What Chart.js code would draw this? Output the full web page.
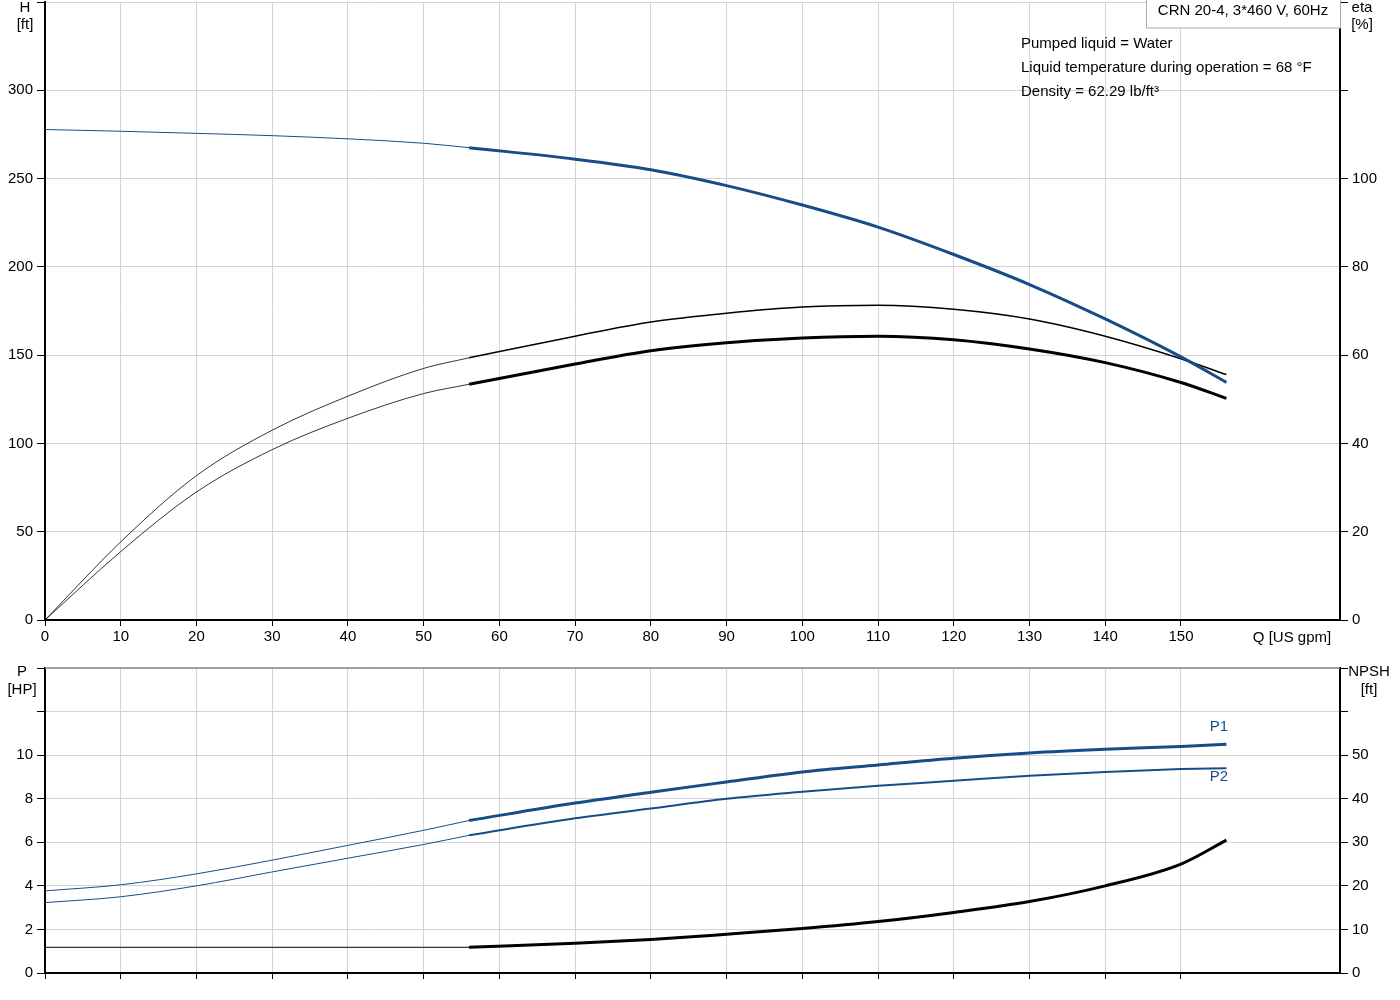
<!DOCTYPE html>
<html><head><meta charset="utf-8">
<script src="https://cdn.jsdelivr.net/npm/chart.js@4"></script>
<style>body{margin:0;background:#fff;width:1400px;height:1000px;overflow:hidden;position:relative}
#c1{position:absolute;left:0;top:-11px}#c2{position:absolute;left:0;top:655px}</style>
</head><body>
<canvas id="c1" width="1400" height="667"></canvas>
<canvas id="c2" width="1400" height="345"></canvas>
<script>
const qLow=[0,10,20,30,40,50,56];
const qHigh=[56,70,80,90,100,110,120,130,140,150,156];
const hLow=[277.8,276.8,275.6,274.3,272.5,270,267.5];
const hHigh=[267.5,261,255,246,235,222.5,207,190,170.5,149,134.6];
const eta1Low=[0,17.7,32.7,43,50.7,57,59.4];
const eta1High=[59.4,64.3,67.5,69.5,70.9,71.3,70.4,68.2,64.3,59.2,55.6];
const eta2Low=[0,15.5,29,38.6,45.7,51.3,53.4];
const eta2High=[53.4,58,61,62.8,63.9,64.3,63.5,61.4,58.3,53.8,50.2];
const p1Low=[3.77,4.05,4.55,5.18,5.86,6.55,7.0];
const p1High=[7.0,7.8,8.3,8.77,9.23,9.55,9.86,10.1,10.27,10.4,10.5];
const p2Low=[3.23,3.5,4.0,4.64,5.27,5.9,6.32];
const p2High=[6.32,7.1,7.55,8.0,8.32,8.6,8.82,9.05,9.23,9.36,9.4];
const npshLow=[5.9,5.9,5.9,5.9,5.9,5.9,5.9];
const npshHigh=[5.9,6.8,7.7,8.9,10.2,11.8,13.9,16.4,20,25,30.5];
const xTicks=[0,10,20,30,40,50,60,70,80,90,100,110,120,130,140,150];
const BLUE='#174d87';
Chart.defaults.font.family='Arial, "Liberation Sans", sans-serif';
Chart.defaults.font.size=15;
Chart.defaults.color='#000';
function pts(xs,ys){return xs.map((x,i)=>({x,y:ys[i]}));}
function ds(xs,ys,color,w,axis){return {data:pts(xs,ys),borderColor:color,borderWidth:w,pointRadius:0,tension:0.4,cubicInterpolationMode:'monotone',yAxisID:axis,fill:false};}
const grid={color:'#d4d4d4',tickColor:'#000',tickLength:8};
function xScale(showLabels){return {type:'linear',min:0,max:171,
  afterBuildTicks:s=>{s.ticks=xTicks.map(v=>({value:v}));},
  grid:{color:'#d4d4d4',tickColor:'#000',tickLength:6,drawTicks:true},
  border:{color:'#000',width:2},
  ticks:{display:showLabels,padding:2,maxRotation:0,autoSkip:false}};}
function yScale(pos,max,step,maxLabel,w){return {type:'linear',position:pos,min:0,max:max,
  afterBuildTicks:s=>{const t=[];for(let v=0;v<=max;v+=step)t.push({value:v});s.ticks=t;},
  afterFit:s=>{s.width=w;},
  grid:Object.assign({},grid,{drawOnChartArea:pos==='left'}),
  border:{color:'#000',width:2},
  ticks:{autoSkip:false,padding:4,callback:v=>v>maxLabel?'':v}};}
const textPlugin=(fn)=>({id:'txt'+Math.random(),afterDraw(c){fn(c.ctx,c);}});
new Chart(document.getElementById('c1'),{type:'line',
 data:{datasets:[
  ds(qLow,hLow,BLUE,1,'y'),ds(qHigh,hHigh,BLUE,3,'y'),
  ds(qLow,eta1Low,'#000',0.8,'y2'),ds(qHigh,eta1High,'#000',1.5,'y2'),
  ds(qLow,eta2Low,'#000',0.8,'y2'),ds(qHigh,eta2High,'#000',3,'y2')]},
 options:{responsive:false,animation:false,events:[],
  layout:{padding:{top:1,left:0,right:0,bottom:8}},
  plugins:{legend:{display:false},tooltip:{enabled:false}},
  scales:{x:xScale(true),y:yScale('left',350,50,300,45),y2:yScale('right',140,20,100,60)}},
 plugins:[textPlugin((ctx,c)=>{
  const a=c.chartArea;ctx.save();ctx.translate(0,11);ctx.font='15px Arial, "Liberation Sans", sans-serif';ctx.fillStyle='#000';
  ctx.textAlign='center';ctx.textBaseline='top';
  ctx.fillText('H',25,0);ctx.fillText('[ft]',25,17);
  ctx.fillText('eta',1362,0);ctx.fillText('[%]',1362,17);
  ctx.fillText('Q [US gpm]',1292,c.scales.x.top-11+10);
  ctx.strokeStyle='#aaa';ctx.lineWidth=1;ctx.fillStyle='#fff';
  ctx.fillRect(1146,0,194,28);ctx.strokeRect(1146.5,-1,194,29);
  ctx.fillStyle='#000';ctx.fillText('CRN 20-4, 3*460 V, 60Hz',1243,3);
  ctx.textAlign='left';
  ctx.fillText('Pumped liquid = Water',1021,36);
  ctx.fillText('Liquid temperature during operation = 68 °F',1021,60);
  ctx.fillText('Density = 62.29 lb/ft³',1021,84);
  ctx.restore();})]});
new Chart(document.getElementById('c2'),{type:'line',
 data:{datasets:[
  ds(qLow,p1Low,BLUE,1,'y'),ds(qHigh,p1High,BLUE,3,'y'),
  ds(qLow,p2Low,BLUE,1,'y'),ds(qHigh,p2High,BLUE,2,'y'),
  ds(qLow,npshLow,'#000',1,'y2'),ds(qHigh,npshHigh,'#000',3,'y2')]},
 options:{responsive:false,animation:false,events:[],
  layout:{padding:{top:10,left:0,right:0,bottom:21}},
  plugins:{legend:{display:false},tooltip:{enabled:false}},
  scales:{x:xScale(false),y:yScale('left',14,2,10,45),y2:yScale('right',70,10,50,60)}},
 plugins:[textPlugin((ctx,c)=>{
  const a=c.chartArea;ctx.save();ctx.font='15px Arial, "Liberation Sans", sans-serif';
  ctx.strokeStyle='#888';ctx.lineWidth=1.5;ctx.beginPath();ctx.moveTo(a.left,a.top);ctx.lineTo(a.right,a.top);ctx.stroke();
  ctx.fillStyle='#000';ctx.textAlign='center';ctx.textBaseline='top';
  ctx.fillText('P',22,9);ctx.fillText('[HP]',22,27);
  ctx.fillText('NPSH',1369,9);ctx.fillText('[ft]',1369,27);
  ctx.fillStyle=BLUE;const xs=c.scales.x,ys=c.scales.y;
  ctx.textBaseline='middle';
  ctx.fillText('P1',xs.getPixelForValue(155),ys.getPixelForValue(11.3));
  ctx.fillText('P2',xs.getPixelForValue(155),ys.getPixelForValue(9.0));
  ctx.restore();})]});
</script></body></html>
